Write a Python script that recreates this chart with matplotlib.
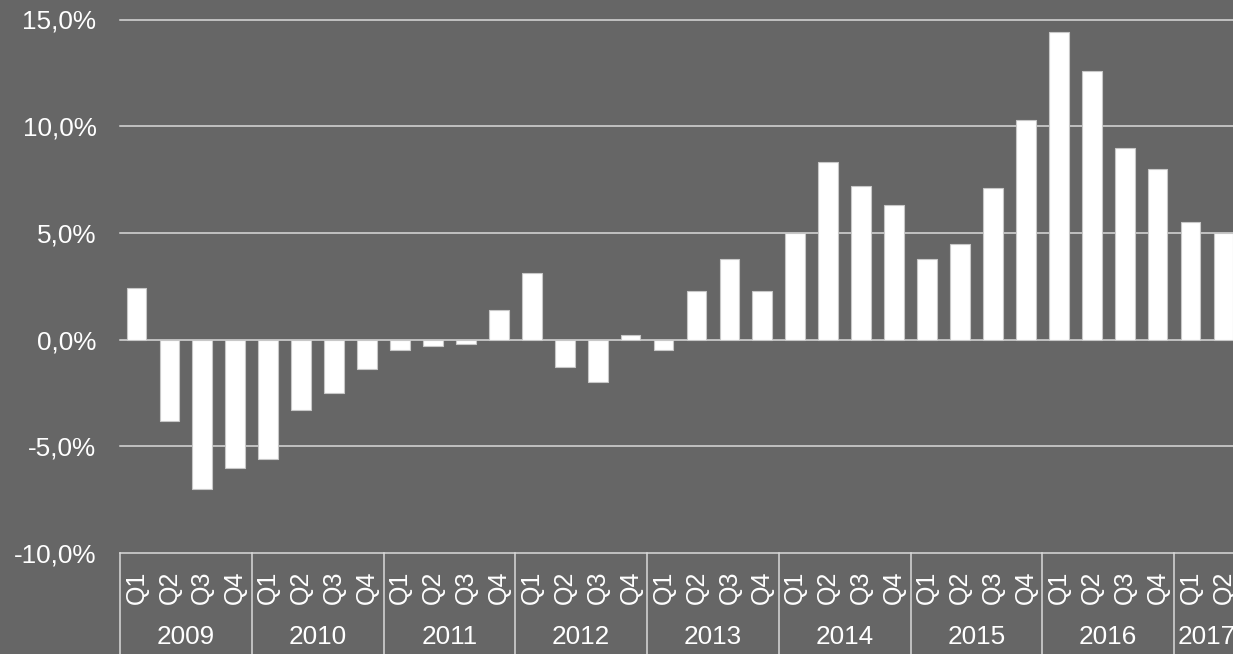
import matplotlib
matplotlib.use("Agg")
import matplotlib.pyplot as plt
from matplotlib.ticker import FuncFormatter, MultipleLocator
from matplotlib.transforms import blended_transform_factory

# quarterly growth rate, %
years = ["2009", "2010", "2011", "2012", "2013", "2014", "2015", "2016", "2017"]
quarters_per_year = [4, 4, 4, 4, 4, 4, 4, 4, 2]
quarter_names = ["Q1", "Q2", "Q3", "Q4"]
growth = [2.4, -3.8, -7.0, -6.0,
          -5.6, -3.3, -2.5, -1.4,
          -0.5, -0.3, -0.2, 1.4,
          3.1, -1.3, -2.0, 0.2,
          -0.5, 2.3, 3.8, 2.3,
          5.0, 8.3, 7.2, 6.3,
          3.8, 4.5, 7.1, 10.3,
          14.4, 12.6, 9.0, 8.0,
          5.5, 5.0]

bg = "#666666"
grid_col = "#d9d9d9"
txt_col = "#ffffff"

plt.rcParams["font.family"] = ["Liberation Sans", "DejaVu Sans"]

W, H = 1233, 654
fig = plt.figure(figsize=(W / 100, H / 100), dpi=100, facecolor=bg)

n = len(growth)
step = 32.94
left_px, top_px, bottom_px = 120, 19.5, 553
ax = fig.add_axes([left_px / W, (H - bottom_px) / H,
                   n * step / W, (bottom_px - top_px) / H])
ax.set_facecolor(bg)

xs = [i + 0.5 for i in range(n)]
ax.bar(xs, growth, width=0.6, color="white", edgecolor="#c8c8c8",
       linewidth=0.8, zorder=3)

ax.set_xlim(0, n)
ax.set_ylim(-10, 15)
ax.yaxis.set_major_locator(MultipleLocator(5))
ax.yaxis.set_major_formatter(
    FuncFormatter(lambda v, p: f"{v:.1f}%".replace(".", ",")))
ax.tick_params(axis="y", length=0, pad=17, labelsize=18.8, labelcolor=txt_col)
ax.set_xticks([])
ax.grid(axis="y", color=grid_col, linewidth=1.1, zorder=1)
for line in ax.get_ygridlines():
    line.set_clip_on(False)
for s in ax.spines.values():
    s.set_visible(False)

# two-level category axis below the plot
tr = blended_transform_factory(ax.transData, fig.transFigure)
axis_y = (H - bottom_px) / H
pos = 0
for yr, nq in zip(years, quarters_per_year):
    ax.plot([pos, pos], [0, axis_y], transform=tr, color=grid_col,
            linewidth=1.1, clip_on=False)
    for q in range(nq):
        ax.text(pos + q + 0.5, (H - 587) / H, quarter_names[q], transform=tr,
                rotation=90, ha="center", va="center", color=txt_col,
                fontsize=18)
    ax.text(pos + nq / 2, (H - 637) / H, yr, transform=tr, ha="center",
            va="center", color=txt_col, fontsize=18.8)
    pos += nq
ax.plot([pos, pos], [0, axis_y], transform=tr, color=grid_col,
        linewidth=1.1, clip_on=False)

fig.savefig("out.png", dpi=100, facecolor=bg)
